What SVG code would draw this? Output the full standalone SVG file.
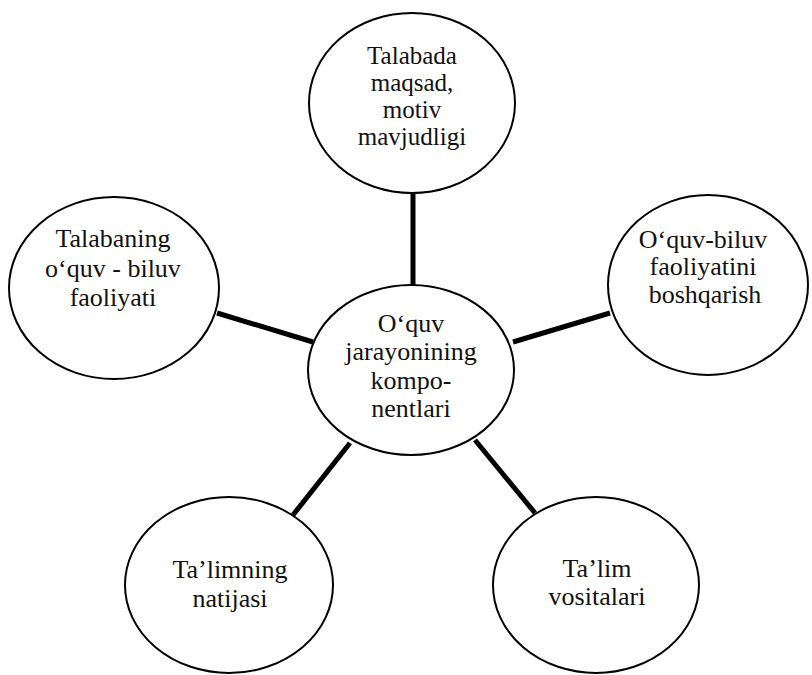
<svg xmlns="http://www.w3.org/2000/svg" width="812" height="675" viewBox="0 0 812 675">
<style>
.node ellipse{fill:#fff;stroke:#000;stroke-width:2}
.node text{font-family:"Liberation Serif","Times New Roman",serif;font-size:26px;fill:#111;text-anchor:middle}
#top text{font-size:25px}
.conn line{stroke:#000;stroke-width:5}
</style>
<rect width="812" height="675" fill="#fff"/>
<g class="conn">
<line x1="413" y1="193" x2="413" y2="286"/>
<line x1="217" y1="313" x2="313" y2="342"/>
<line x1="513" y1="342" x2="610" y2="313"/>
<line x1="350" y1="443" x2="293" y2="515"/>
<line x1="475" y1="440" x2="535" y2="513"/>
</g>
<g id="center" class="node">
<ellipse cx="411" cy="370" rx="103" ry="85"/>
<text x="411" y="332">O‘quv</text>
<text x="411" y="360">jarayonining</text>
<text x="411" y="389">kompo-</text>
<text x="411" y="417">nentlari</text>
</g>
<g id="top" class="node">
<ellipse cx="412" cy="103" rx="103" ry="90"/>
<text x="412" y="64">Talabada</text>
<text x="412" y="91">maqsad,</text>
<text x="412" y="118">motiv</text>
<text x="412" y="145">mavjudligi</text>
</g>
<g id="left" class="node">
<ellipse cx="114" cy="288" rx="105" ry="91"/>
<text x="113" y="247">Talabaning</text>
<text x="113" y="277">o‘quv - biluv</text>
<text x="113" y="306">faoliyati</text>
</g>
<g id="right" class="node">
<ellipse cx="708" cy="285" rx="100" ry="90"/>
<text x="703" y="248">O‘quv-biluv</text>
<text x="703" y="275">faoliyatini</text>
<text x="705" y="303">boshqarish</text>
</g>
<g id="bottomleft" class="node">
<ellipse cx="229" cy="585" rx="104" ry="88"/>
<text x="230" y="578">Ta’limning</text>
<text x="230" y="607">natijasi</text>
</g>
<g id="bottomright" class="node">
<ellipse cx="596" cy="585" rx="103" ry="88"/>
<text x="597" y="577">Ta’lim</text>
<text x="597" y="605">vositalari</text>
</g>
</svg>
